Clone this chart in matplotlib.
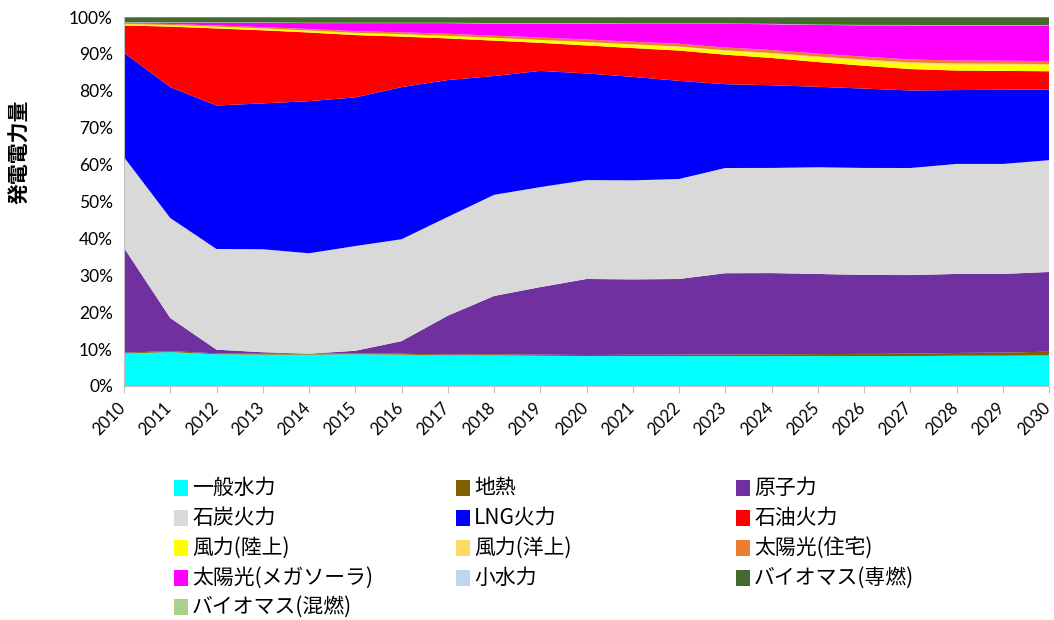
import matplotlib
matplotlib.use("Agg")
import matplotlib.pyplot as plt
from matplotlib.patches import Rectangle
from matplotlib.transforms import ScaledTranslation
import numpy as np

plt.rcParams['font.family'] = ['Lato', 'Noto Sans CJK JP', 'DejaVu Sans']

years = list(range(2010, 2031))

names = ['一般水力', '地熱', '原子力', '石炭火力', 'LNG火力', '石油火力',
         '風力(陸上)', '風力(洋上)', '太陽光(住宅)', '太陽光(メガソーラ)',
         '小水力', 'バイオマス(専燃)', 'バイオマス(混燃)']
colors = ['#00FFFF', '#7F6000', '#7030A0', '#D9D9D9', '#0000FF', '#FF0000',
          '#FFFF00', '#FFD966', '#ED7D31', '#FF00FF',
          '#BDD7EE', '#456A2E', '#A9D18E']

# shares in %
hydro = [8.8, 9.2, 8.6, 8.5, 8.5, 8.6, 8.5, 8.3, 8.3, 8.2, 8.1, 8.1, 8.1, 8.1, 8.1, 8.1, 8.1, 8.1, 8.2, 8.2, 8.3]
geothermal = [0.25, 0.25, 0.25, 0.25, 0.25, 0.25, 0.25, 0.25, 0.3, 0.3, 0.3, 0.35, 0.4, 0.45, 0.5, 0.55, 0.6, 0.65, 0.75, 0.85, 1.0]
nuclear = [28.4, 9.0, 1.0, 0.4, 0.0, 0.7, 3.4, 10.5, 15.8, 18.3, 20.6, 20.4, 20.5, 22.0, 22.0, 21.7, 21.4, 21.3, 21.4, 21.3, 21.6]
coal = [24.6, 27.1, 27.3, 27.9, 27.2, 28.4, 27.6, 26.8, 27.4, 27.1, 26.8, 26.8, 27.1, 28.5, 28.5, 28.9, 29.0, 29.0, 29.8, 29.8, 30.3]
lng = [28.3, 35.5, 38.9, 39.5, 41.2, 40.3, 41.2, 37.1, 32.2, 31.5, 28.9, 28.0, 26.6, 22.7, 22.4, 21.8, 21.5, 21.0, 20.0, 20.1, 19.1]
oil = [7.4, 16.4, 20.9, 19.8, 18.6, 16.9, 13.7, 11.3, 9.6, 7.6, 7.6, 7.8, 8.2, 8.0, 7.4, 6.7, 6.2, 5.8, 5.3, 5.1, 5.0]
wind_on = [0.4, 0.45, 0.5, 0.5, 0.55, 0.6, 0.65, 0.7, 0.75, 0.8, 0.85, 0.9, 0.95, 1.0, 1.1, 1.2, 1.3, 1.4, 1.45, 1.5, 1.5]
wind_off = [0, 0, 0, 0, 0, 0, 0, 0, 0, 0, 0.05, 0.1, 0.15, 0.2, 0.25, 0.3, 0.35, 0.4, 0.45, 0.45, 0.45]
solar_res = [0.2, 0.25, 0.3, 0.35, 0.4, 0.45, 0.5, 0.55, 0.6, 0.65, 0.7, 0.7, 0.75, 0.75, 0.8, 0.8, 0.8, 0.8, 0.8, 0.8, 0.8]
solar_mega = [0.15, 0.35, 0.75, 1.2, 1.6, 2.2, 2.5, 2.9, 3.3, 3.8, 4.35, 4.85, 5.4, 6.4, 7.0, 7.75, 8.5, 9.25, 9.45, 9.5, 9.6]
small_hydro = [0.1] * 21
bio_dedicated = [1.4, 1.4, 1.4, 1.4, 1.5, 1.5, 1.5, 1.5, 1.6, 1.6, 1.6, 1.7, 1.7, 1.7, 1.8, 2.0, 2.1, 2.1, 2.2, 2.2, 2.2]
bio_cofiring = [0.05] * 21

series = [hydro, geothermal, nuclear, coal, lng, oil, wind_on, wind_off,
          solar_res, solar_mega, small_hydro, bio_dedicated, bio_cofiring]

data = np.array(series, dtype=float)
data = data / data.sum(axis=0) * 100  # 100% stacked

fig = plt.figure(figsize=(10.54, 6.2), dpi=100)
ax = fig.add_axes([124 / 1054, 1 - 386 / 620, 925 / 1054, 369 / 620])

ax.stackplot(years, data, colors=colors, linewidth=0, antialiased=True)

ax.set_xlim(2010, 2030)
ax.set_ylim(0, 100)
ax.set_xticks(years)
ax.set_xticklabels([])
# rotated year labels, nudged left so the last one stays inside the figure
lbl_tr = ax.get_xaxis_transform() + ScaledTranslation(-1 / 100, -19 / 100, fig.dpi_scale_trans)
for yr in years:
    ax.text(yr, 0, str(yr), transform=lbl_tr, rotation=45, ha='right', va='center',
            rotation_mode='anchor', fontsize=12)
ax.set_yticks(range(0, 101, 10))
ax.set_yticklabels([f'{v}%' for v in range(0, 101, 10)], fontsize=12.5)
ax.tick_params(axis='y', length=0, pad=8)
ax.tick_params(axis='x', length=5, color='#BFBFBF')
for s in ['top', 'right']:
    ax.spines[s].set_visible(False)
ax.spines['left'].set_color('#BFBFBF')
ax.spines['bottom'].set_color('#BFBFBF')

fig.text(0.019, 1 - 152 / 620, '発電電力量', rotation=90, ha='center', va='center',
         fontsize=15, fontweight='bold', family=['Noto Sans CJK JP', 'DejaVu Sans'])

# legend, three columns, row-wise order
col_x = [174, 456, 736]
row_y = [488, 518, 548, 578, 607]
for i, (name, c) in enumerate(zip(names, colors)):
    col, row = i % 3, i // 3
    x = col_x[col]
    y = row_y[row]
    fig.add_artist(Rectangle((x / 1054, 1 - (y + 8) / 620), 14 / 1054, 16 / 620,
                             transform=fig.transFigure, facecolor=c, edgecolor='none'))
    fig.text((x + 18) / 1054, 1 - y / 620, name, ha='left', va='center', fontsize=15,
             family=['Noto Sans CJK JP', 'DejaVu Sans'])

fig.savefig('out.png', dpi=100)
